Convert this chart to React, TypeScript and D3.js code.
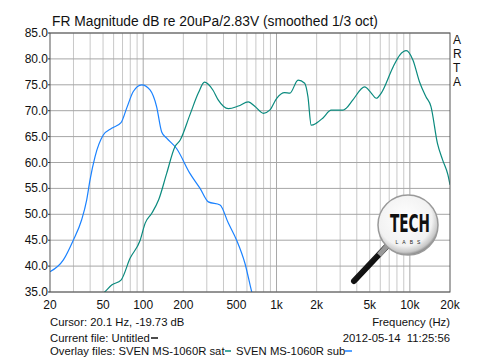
import React from "react";
import * as d3 from "d3";

const title = "FR Magnitude dB re 20uPa/2.83V (smoothed 1/3 oct)";
const yTicks = [35, 40, 45, 50, 55, 60, 65, 70, 75, 80, 85];
const xLabelTicks = [20, 50, 100, 200, 500, 1000, 2000, 5000, 10000, 20000];
const xLabelText = ["20", "50", "100", "200", "500", "1k", "2k", "5k", "10k", "20k"];
const darkGridX = [100, 1000, 10000];

// SVEN MS-1060R sub (blue)
const subFreq = [20, 25.2, 29.9, 34.5, 37.7, 39.9, 43.5, 50.2, 58, 68.2, 75.2, 84.3, 97.4, 112.5, 126, 137.6, 150, 178, 224, 267, 308, 377, 435, 502, 580, 651, 700];
const subDb = [38.9, 41.2, 45.0, 48.9, 52.8, 56.6, 61.1, 65.3, 66.6, 67.7, 70.5, 73.7, 75.0, 74.0, 70.8, 65.9, 64.7, 62.7, 57.9, 55.0, 52.4, 51.8, 48.3, 45.0, 40.5, 35.05, 32];

// SVEN MS-1060R sat (teal)
const satFreq = [48, 51.7, 58, 68.2, 79.7, 94.9, 103.5, 116, 130.6, 150, 173, 189, 224, 260, 288, 333, 365, 435, 517, 614, 690, 797, 889, 1003, 1150, 1260, 1450, 1626, 1720, 1820, 1990, 2230, 2570, 3150, 3340, 3740, 4580, 5100, 5600, 6100, 7500, 8400, 9400, 10540, 11800, 13200, 14400, 16100, 17600, 19300, 20000];
const satDb = [34.3, 35.05, 36.35, 37.3, 41.5, 45.0, 48.3, 50.2, 52.8, 57.9, 63.05, 64.3, 69.2, 73.5, 75.5, 74.0, 72.1, 70.4, 70.9, 71.7, 70.8, 69.5, 70.1, 72.4, 73.5, 73.4, 75.9, 75.3, 72.7, 67.2, 67.6, 68.6, 70.1, 70.1, 70.5, 72.1, 74.6, 73.5, 72.4, 73.4, 78.5, 80.75, 81.6, 79.8, 75.6, 72.7, 70.8, 63.7, 60.5, 57.6, 55.7];

const W = 500;
const H = 360;
const L = 50, R = 450, T = 33, B = 292;

export default function App() {
  const x = d3.scaleLog().domain([20, 20000]).range([L, R]);
  const y = d3.scaleLinear().domain([35, 85]).range([B, T]);

  const gridX: number[] = [];
  for (let dec = 10; dec <= 10000; dec *= 10) {
    for (let m = 1; m <= 9; m++) {
      const f = dec * m;
      if (f > 20 && f < 20000) gridX.push(f);
    }
  }

  const line = d3
    .line<[number, number]>()
    .x((d) => x(d[0]))
    .y((d) => y(d[1]))
    .curve(d3.curveMonotoneX);

  const subPts = subFreq.map((f, i) => [f, subDb[i]] as [number, number]);
  const satPts = satFreq.map((f, i) => [f, satDb[i]] as [number, number]);

  const font = "'Liberation Sans', Arial, sans-serif";
  const blue = "#1a82ff";
  const teal = "#0a8a7e";
  const fs = 11.3;

  return (
    <svg width={W} height={H} style={{ position: "absolute", left: 0, top: 0, background: "#fff" }} fontFamily={font}>
      <defs>
        <clipPath id="plot">
          <rect x={L} y={T} width={R - L} height={B - T} />
        </clipPath>
        <radialGradient id="lens" cx="0.45" cy="0.4" r="0.6">
          <stop offset="0" stopColor="#ffffff" />
          <stop offset="0.75" stopColor="#f2f2f2" />
          <stop offset="0.92" stopColor="#c8c8c8" />
          <stop offset="1" stopColor="#8a8a8a" />
        </radialGradient>
        <linearGradient id="handle" x1="0" y1="0" x2="1" y2="1">
          <stop offset="0" stopColor="#555" />
          <stop offset="0.5" stopColor="#111" />
          <stop offset="1" stopColor="#000" />
        </linearGradient>
      </defs>
      <rect x={0} y={0} width={W} height={H} fill="#fff" />
      {gridX.map((f) => (
        <line
          key={"gx" + f}
          x1={x(f)}
          x2={x(f)}
          y1={T}
          y2={B}
          stroke={darkGridX.includes(f) ? "#a8a8a8" : "#c8c8c8"}
          strokeWidth={1}
        />
      ))}
      {yTicks.map((v) => (
        <line key={"gy" + v} x1={L} x2={R} y1={y(v)} y2={y(v)} stroke="#a6a6a6" strokeWidth={1} />
      ))}
      <g clipPath="url(#plot)">
        <path d={line(subPts) || ""} fill="none" stroke={blue} strokeWidth={1.2} />
        <path d={line(satPts) || ""} fill="none" stroke={teal} strokeWidth={1.2} />
      </g>
      {/* Logo */}
      <g>
        <line x1={387} y1={246} x2={354} y2={281} stroke="url(#handle)" strokeWidth={6} strokeLinecap="round" />
        <line x1={387} y1={246} x2={379} y2={255} stroke="#999" strokeWidth={5} />
        <circle cx={408} cy={225} r={30} fill="url(#lens)" stroke="#9a9a9a" strokeWidth={1.5} />
        <text x={390} y={232} fontSize={25} fontWeight="bold" fontFamily="'Liberation Sans Narrow', 'DejaVu Sans Condensed', sans-serif" fill="#111" textLength={40} lengthAdjust="spacingAndGlyphs">
          TECH
        </text>
        <text x={410} y={244} textAnchor="middle" fontSize={5} fill="#222" letterSpacing={4}>
          LABS
        </text>
      </g>
      <rect x={L} y={T} width={R - L} height={B - T} fill="none" stroke="#555" strokeWidth={1} />
      {yTicks.map((v) => (
        <g key={"yl" + v}>
          <line x1={L - 2} x2={L} y1={y(v)} y2={y(v)} stroke="#333" />
          <text x={L - 2} y={y(v) + 4} textAnchor="end" fontSize={12} fill="#111">
            {v.toFixed(1)}
          </text>
        </g>
      ))}
      {xLabelTicks.map((f, i) => (
        <text key={"xl" + f} x={x(f)} y={309} textAnchor="middle" fontSize={12} fill="#111">
          {xLabelText[i]}
        </text>
      ))}
      <text x={52} y={26} fontSize={13.8} fill="#111">
        {title}
      </text>
      {["A", "R", "T", "A"].map((c, i) => (
        <text key={"arta" + i} x={453} y={44 + i * 14} fontSize={12} fill="#111">
          {c}
        </text>
      ))}
      <text x={450} y={326} textAnchor="end" fontSize={fs} fill="#111">
        Frequency (Hz)
      </text>
      <text x={450} y={342} textAnchor="end" fontSize={fs} fill="#111" style={{ whiteSpace: "pre" }}>
        {"2012-05-14  11:25:56"}
      </text>
      <text x={50} y={326} fontSize={fs} fill="#111">
        Cursor: 20.1 Hz, -19.73 dB
      </text>
      <text x={50} y={342} fontSize={fs} fill="#111">
        Current file: Untitled
      </text>
      <line x1={151} x2={158} y1={338} y2={338} stroke="#111" strokeWidth={1.5} />
      <text x={50} y={355} fontSize={fs} fill="#111">
        Overlay files: SVEN MS-1060R sat
      </text>
      <line x1={225} x2={231} y1={351} y2={351} stroke={teal} strokeWidth={1.5} />
      <text x={236} y={355} fontSize={fs} fill="#111">
        SVEN MS-1060R sub
      </text>
      <line x1={345} x2={352} y1={351} y2={351} stroke={blue} strokeWidth={1.5} />
    </svg>
  );
}
